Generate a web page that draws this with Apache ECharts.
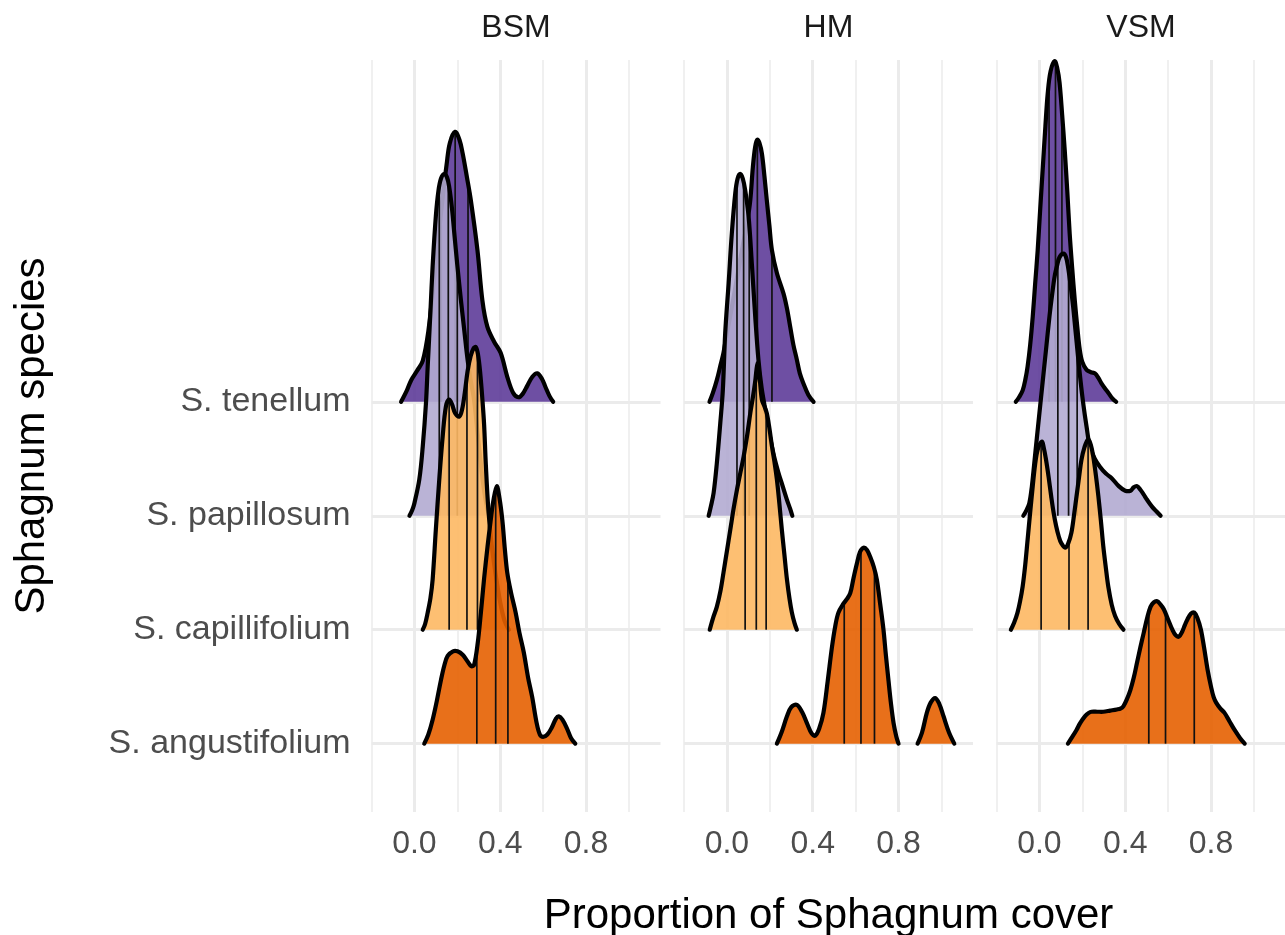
<!DOCTYPE html>
<html>
<head>
<meta charset="utf-8">
<script src="https://cdn.jsdelivr.net/npm/echarts@6/dist/echarts.min.js"></script>
<style>
html,body{margin:0;padding:0;background:#ffffff;}
#chart{width:1285px;height:935px;}
</style>
</head>
<body>
<div id="chart"></div>
<script>
// ---------------- DATA ----------------
const facets = ['BSM', 'HM', 'VSM'];
const species = ['S. tenellum', 'S. papillosum', 'S. capillifolium', 'S. angustifolium'];
const xTickValues = [0, 0.4, 0.8];
const xTickLabels = ['0.0', '0.4', '0.8'];
const xTitle = 'Proportion of Sphagnum cover';
const yTitle = 'Sphagnum species';

// density ridges: [proportion, ridge height in row units]; null splits a ridge into pieces
const bsmTenellum = [[-0.062,0],[-0.035,0.1],[-0.015,0.19],[0.015,0.28],[0.039,0.36],[0.065,0.62],[0.09,1.05],[0.115,1.5],[0.135,1.85],[0.15,2.08],[0.165,2.27],[0.19,2.37],[0.21,2.3],[0.225,2.18],[0.245,1.97],[0.263,1.77],[0.294,1.33],[0.317,0.89],[0.34,0.66],[0.371,0.53],[0.402,0.43],[0.433,0.22],[0.46,0.08],[0.485,0.04],[0.505,0.07],[0.526,0.14],[0.55,0.22],[0.573,0.25],[0.595,0.2],[0.611,0.13],[0.63,0.05],[0.647,0]];
const bsmPapillosum = [[-0.023,0],[-0.01,0.05],[0,0.11],[0.023,0.32],[0.039,0.61],[0.054,0.99],[0.062,1.31],[0.075,1.8],[0.085,2.19],[0.1,2.63],[0.112,2.85],[0.124,2.96],[0.139,3.0],[0.152,2.97],[0.162,2.89],[0.175,2.7],[0.186,2.48],[0.2,2.2],[0.217,1.89],[0.233,1.62],[0.248,1.37],[0.263,1.18],[0.278,1.02],[0.295,0.72],[0.31,0.45],[0.325,0.22],[0.34,0.06],[0.35,0]];
const bsmCapillifolium = [[0.039,0],[0.05,0.05],[0.062,0.15],[0.075,0.28],[0.085,0.44],[0.1,0.88],[0.116,1.32],[0.132,1.7],[0.147,1.96],[0.162,2.02],[0.175,1.98],[0.19,1.9],[0.209,1.87],[0.222,1.93],[0.235,2.08],[0.248,2.27],[0.262,2.4],[0.276,2.47],[0.286,2.48],[0.296,2.42],[0.307,2.25],[0.317,2.02],[0.325,1.8],[0.333,1.45],[0.345,1.05],[0.36,0.75],[0.38,0.47],[0.4,0.24],[0.42,0.08],[0.44,0]];
const bsmAngustifolium = [[0.046,0],[0.065,0.08],[0.085,0.21],[0.105,0.38],[0.124,0.56],[0.14,0.69],[0.155,0.77],[0.18,0.81],[0.201,0.81],[0.225,0.78],[0.248,0.72],[0.265,0.68],[0.278,0.69],[0.295,0.88],[0.31,1.15],[0.325,1.45],[0.341,1.73],[0.355,1.95],[0.368,2.13],[0.384,2.26],[0.397,2.15],[0.41,1.96],[0.422,1.7],[0.433,1.5],[0.45,1.33],[0.472,1.15],[0.49,0.97],[0.51,0.8],[0.53,0.58],[0.549,0.41],[0.57,0.18],[0.585,0.08],[0.6,0.06],[0.62,0.08],[0.64,0.14],[0.66,0.22],[0.673,0.24],[0.69,0.21],[0.712,0.13],[0.73,0.05],[0.75,0]];

const hmTenellum = [[-0.081,0],[-0.065,0.08],[-0.047,0.19],[-0.03,0.32],[-0.016,0.43],[0,0.6],[0.025,0.85],[0.05,1.12],[0.075,1.38],[0.095,1.58],[0.109,1.77],[0.121,2.06],[0.132,2.24],[0.142,2.3],[0.152,2.27],[0.163,2.18],[0.175,1.98],[0.186,1.77],[0.198,1.55],[0.21,1.33],[0.233,1.13],[0.264,0.95],[0.28,0.82],[0.295,0.66],[0.31,0.5],[0.326,0.37],[0.34,0.25],[0.357,0.16],[0.38,0.06],[0.404,0]];
const hmPapillosum = [[-0.085,0],[-0.075,0.08],[-0.062,0.2],[-0.047,0.46],[-0.031,0.81],[-0.019,1.1],[-0.008,1.6],[0.008,2.04],[0.023,2.48],[0.039,2.83],[0.05,2.96],[0.062,3.0],[0.074,2.96],[0.085,2.86],[0.101,2.63],[0.117,2.19],[0.132,1.75],[0.147,1.37],[0.162,1.12],[0.18,0.92],[0.2,0.7],[0.22,0.52],[0.24,0.38],[0.26,0.26],[0.28,0.14],[0.295,0.06],[0.305,0]];
const hmCapillifolium = [[-0.08,0],[-0.065,0.1],[-0.047,0.2],[-0.03,0.34],[-0.016,0.5],[0,0.69],[0.016,0.88],[0.031,1.06],[0.047,1.23],[0.062,1.37],[0.078,1.52],[0.094,1.7],[0.109,1.9],[0.122,2.05],[0.132,2.18],[0.143,2.34],[0.153,2.2],[0.163,2.02],[0.175,1.96],[0.186,1.9],[0.198,1.77],[0.21,1.61],[0.222,1.47],[0.233,1.32],[0.245,1.1],[0.256,0.88],[0.268,0.66],[0.28,0.44],[0.292,0.27],[0.303,0.15],[0.315,0.06],[0.326,0]];
const hmAngustifolium = [[0.233,0],[0.255,0.1],[0.28,0.24],[0.3,0.32],[0.326,0.34],[0.35,0.28],[0.373,0.18],[0.395,0.09],[0.412,0.07],[0.43,0.13],[0.45,0.27],[0.47,0.55],[0.49,0.85],[0.505,1.03],[0.52,1.15],[0.544,1.23],[0.56,1.27],[0.575,1.32],[0.59,1.45],[0.606,1.58],[0.62,1.68],[0.637,1.72],[0.653,1.7],[0.668,1.64],[0.685,1.55],[0.699,1.44],[0.715,1.22],[0.73,1.0],[0.741,0.78],[0.753,0.56],[0.765,0.35],[0.777,0.18],[0.79,0.06],[0.8,0],
  null,[0.889,0],[0.91,0.1],[0.932,0.27],[0.95,0.36],[0.971,0.4],[0.99,0.35],[1.01,0.24],[1.035,0.1],[1.06,0]];

const vsmTenellum = [[-0.11,0],[-0.095,0.04],[-0.078,0.1],[-0.065,0.2],[-0.055,0.31],[-0.043,0.5],[-0.031,0.75],[-0.02,1.03],[-0.008,1.33],[0.004,1.7],[0.016,2.06],[0.028,2.42],[0.039,2.71],[0.052,2.9],[0.071,2.99],[0.083,2.93],[0.094,2.8],[0.106,2.52],[0.118,2.21],[0.13,1.85],[0.141,1.48],[0.153,1.17],[0.165,0.89],[0.177,0.65],[0.188,0.46],[0.2,0.35],[0.22,0.28],[0.24,0.26],[0.259,0.25],[0.275,0.21],[0.29,0.16],[0.305,0.12],[0.321,0.08],[0.34,0.03],[0.358,0]];
const vsmPapillosum = [[-0.075,0],[-0.06,0.05],[-0.047,0.11],[-0.035,0.26],[-0.024,0.46],[-0.012,0.68],[0,0.9],[0.016,1.19],[0.031,1.46],[0.047,1.75],[0.06,1.95],[0.071,2.1],[0.083,2.2],[0.094,2.27],[0.113,2.3],[0.124,2.27],[0.133,2.19],[0.145,2.03],[0.157,1.84],[0.168,1.63],[0.18,1.4],[0.192,1.18],[0.204,0.99],[0.22,0.78],[0.235,0.61],[0.258,0.5],[0.282,0.43],[0.31,0.37],[0.337,0.33],[0.37,0.26],[0.4,0.22],[0.425,0.22],[0.44,0.25],[0.455,0.26],[0.47,0.23],[0.485,0.19],[0.502,0.14],[0.525,0.08],[0.545,0.04],[0.565,0]];
const vsmCapillifolium = [[-0.133,0],[-0.118,0.06],[-0.102,0.15],[-0.09,0.25],[-0.078,0.38],[-0.066,0.57],[-0.055,0.79],[-0.043,1.03],[-0.031,1.26],[-0.02,1.45],[-0.008,1.58],[0.011,1.65],[0.02,1.6],[0.031,1.49],[0.043,1.34],[0.055,1.17],[0.066,1.03],[0.078,0.91],[0.09,0.82],[0.102,0.76],[0.122,0.72],[0.135,0.76],[0.149,0.85],[0.161,1.0],[0.173,1.17],[0.185,1.34],[0.196,1.49],[0.21,1.6],[0.227,1.67],[0.24,1.62],[0.251,1.52],[0.263,1.36],[0.275,1.17],[0.287,0.95],[0.298,0.73],[0.31,0.54],[0.321,0.38],[0.337,0.22],[0.353,0.12],[0.372,0.05],[0.392,0]];
const vsmAngustifolium = [[0.133,0],[0.15,0.05],[0.173,0.12],[0.19,0.18],[0.212,0.24],[0.23,0.27],[0.243,0.28],[0.27,0.28],[0.298,0.28],[0.33,0.29],[0.361,0.3],[0.38,0.31],[0.392,0.33],[0.408,0.39],[0.424,0.47],[0.44,0.58],[0.455,0.71],[0.47,0.84],[0.486,0.97],[0.502,1.1],[0.518,1.2],[0.533,1.24],[0.549,1.25],[0.565,1.22],[0.58,1.18],[0.6,1.09],[0.62,1.0],[0.636,0.95],[0.651,0.94],[0.665,0.98],[0.678,1.04],[0.69,1.09],[0.706,1.14],[0.722,1.15],[0.737,1.1],[0.753,1.0],[0.768,0.84],[0.784,0.65],[0.8,0.5],[0.812,0.41],[0.824,0.36],[0.843,0.31],[0.863,0.27],[0.885,0.2],[0.91,0.12],[0.935,0.05],[0.957,0]];

// quartile lines: [proportion, ridge height at that proportion]
const bsmTenellumQ = [[0.125,1.55],[0.19,2.37],[0.25,1.9]];
const bsmPapillosumQ = [[0.116,2.88],[0.158,2.92],[0.2,2.2]];
const bsmCapillifoliumQ = [[0.162,2.02],[0.245,2.23],[0.294,2.44]];
const bsmAngustifoliumQ = [[0.291,0.84],[0.379,2.23],[0.436,1.47]];
const hmTenellumQ = [[0.09,1.5],[0.142,2.3],[0.21,1.33]];
const hmPapillosumQ = [[0.047,2.92],[0.078,2.92],[0.104,2.58]];
const hmCapillifoliumQ = [[0.085,1.6],[0.137,2.25],[0.183,1.92]];
const hmAngustifoliumQ = [[0.547,1.24],[0.625,1.69],[0.688,1.53]];
const vsmTenellumQ = [[0.045,2.8],[0.075,2.98],[0.105,2.55]];
const vsmPapillosumQ = [[0.086,2.22],[0.136,2.16],[0.176,1.48]];
const vsmCapillifoliumQ = [[0.008,1.65],[0.138,0.78],[0.227,1.67]];
const vsmAngustifoliumQ = [[0.51,1.15],[0.588,1.15],[0.722,1.15]];

const densities = {
  BSM: [bsmTenellum, bsmPapillosum, bsmCapillifolium, bsmAngustifolium],
  HM: [hmTenellum, hmPapillosum, hmCapillifolium, hmAngustifolium],
  VSM: [vsmTenellum, vsmPapillosum, vsmCapillifolium, vsmAngustifolium]
};
const quartiles = {
  BSM: [bsmTenellumQ, bsmPapillosumQ, bsmCapillifoliumQ, bsmAngustifoliumQ],
  HM: [hmTenellumQ, hmPapillosumQ, hmCapillifoliumQ, hmAngustifoliumQ],
  VSM: [vsmTenellumQ, vsmPapillosumQ, vsmCapillifoliumQ, vsmAngustifoliumQ]
};

// ---------------- STYLE / LAYOUT ----------------
const FONT = '"Liberation Sans", Arial, Helvetica, sans-serif';
const FILLS = ['rgba(94,60,153,0.9)', 'rgba(178,171,210,0.9)', 'rgba(253,184,99,0.9)', 'rgba(230,97,1,0.9)'];
const GRID_LEFT = [371.5, 684, 996.5];
const GRID_W = 289, GRID_TOP = 60, GRID_H = 752;
const X_MIN = -0.2, X_MAX = -0.2 + 289 / 214.5;
const ROW0 = 3;          // first species row on the (inverted) y axis
const Y_MAX = 6.6;
const GRID_COLOR = '#ebebeb';
const CLEAR = 'rgba(0,0,0,0)';
const SMOOTH = 0.35;

function splitSegments(arr) {
  const segs = [[]];
  arr.forEach(p => { if (p === null) segs.push([]); else segs[segs.length - 1].push(p); });
  return segs.filter(s => s.length > 1);
}

function ridgeSeries(g, si) {
  const dens = densities[facets[g]][si];
  const qs = quartiles[facets[g]][si];
  const row = ROW0 + si;
  return {
    type: 'custom',
    coordinateSystem: 'cartesian2d',
    xAxisIndex: 2 * g,
    yAxisIndex: g,
    data: [[0, row]],
    clip: false,
    silent: true,
    animation: false,
    renderItem: function (params, api) {
      const children = [];
      const raw = splitSegments(dens);
      const segs = raw.map(s => s.map(p => api.coord([p[0], row - p[1]])));
      const baseSegs = raw.map(s => [api.coord([s[0][0], row]), api.coord([s[s.length - 1][0], row])]);
      segs.forEach((pts, k) => {
        const poly = pts.concat([baseSegs[k][1], baseSegs[k][0]]);
        children.push({ type: 'polygon', shape: { points: poly, smooth: SMOOTH }, style: { fill: FILLS[si], stroke: null } });
      });
      qs.forEach(q => {
        const a = api.coord([q[0], row]);
        const b = api.coord([q[0], row - q[1]]);
        children.push({ type: 'line', shape: { x1: a[0], y1: a[1], x2: b[0], y2: b[1] }, style: { stroke: '#111', lineWidth: 1.7 } });
      });
      segs.forEach(pts => {
        children.push({ type: 'polyline', shape: { points: pts, smooth: SMOOTH }, style: { stroke: '#000', lineWidth: 4.2, fill: null, lineJoin: 'round', lineCap: 'round' } });
      });
      return { type: 'group', children: children };
    }
  };
}

const grids = [], xAxes = [], yAxes = [], series = [], graphics = [];
facets.forEach((f, g) => {
  grids.push({ left: GRID_LEFT[g], top: GRID_TOP, width: GRID_W, height: GRID_H, containLabel: false, outerBoundsMode: 'none' });
  xAxes.push({
    type: 'value', gridIndex: g, min: X_MIN, max: X_MAX, interval: 0.2, position: 'bottom',
    axisLine: { show: false }, axisTick: { show: false },
    axisLabel: {
      show: true, margin: 16, fontSize: 32, color: '#4d4d4d', fontFamily: FONT,
      formatter: function (v) {
        for (let i = 0; i < xTickValues.length; i++) if (Math.abs(v - xTickValues[i]) < 1e-6) return xTickLabels[i];
        return '';
      }
    },
    splitLine: { show: true, showMinLine: true, showMaxLine: false, lineStyle: { color: [CLEAR, GRID_COLOR], width: 3 } }
  });
  xAxes.push({
    type: 'value', gridIndex: g, min: X_MIN, max: X_MAX, interval: 0.4, position: 'bottom',
    axisLine: { show: false }, axisTick: { show: false }, axisLabel: { show: false },
    splitLine: { show: true, showMinLine: true, showMaxLine: false, lineStyle: { color: GRID_COLOR, width: 1.5 } }
  });
  yAxes.push({
    type: 'value', gridIndex: g, inverse: true, min: 0, max: Y_MAX, interval: 1,
    axisLine: { show: false }, axisTick: { show: false },
    axisLabel: {
      show: g === 0, margin: 21, fontSize: 34, color: '#4d4d4d', fontFamily: FONT,
      formatter: function (v) { const i = Math.round(v) - ROW0; return (Math.abs(v - Math.round(v)) < 1e-6 && species[i]) ? species[i] : ''; }
    },
    splitLine: { show: true, showMaxLine: false, lineStyle: { color: [CLEAR, CLEAR, CLEAR, GRID_COLOR, GRID_COLOR, GRID_COLOR, GRID_COLOR, CLEAR], width: 3 } }
  });
  species.forEach((s, si) => series.push(ridgeSeries(g, si)));
  graphics.push({
    type: 'text', x: GRID_LEFT[g] + GRID_W / 2, y: 28, silent: true,
    style: { text: f, font: '32px ' + FONT, fill: '#1a1a1a', align: 'center', verticalAlign: 'middle', textAlign: 'center', textVerticalAlign: 'middle' }
  });
});

graphics.push({
  type: 'text', x: (GRID_LEFT[0] + GRID_LEFT[2] + GRID_W) / 2, y: 916, silent: true,
  style: { text: xTitle, font: '42px ' + FONT, fill: '#000', align: 'center', verticalAlign: 'middle', textAlign: 'center', textVerticalAlign: 'middle' }
});
graphics.push({
  type: 'text', x: 32, y: GRID_TOP + GRID_H / 2, rotation: Math.PI / 2, silent: true,
  style: { text: yTitle, font: '42px ' + FONT, fill: '#000', align: 'center', verticalAlign: 'middle', textAlign: 'center', textVerticalAlign: 'middle' }
});

const chart = echarts.init(document.getElementById('chart'), null, { renderer: 'canvas' });
chart.setOption({
  backgroundColor: '#ffffff',
  animation: false,
  grid: grids,
  xAxis: xAxes,
  yAxis: yAxes,
  series: series,
  graphic: graphics
});
</script>
</body>
</html>
